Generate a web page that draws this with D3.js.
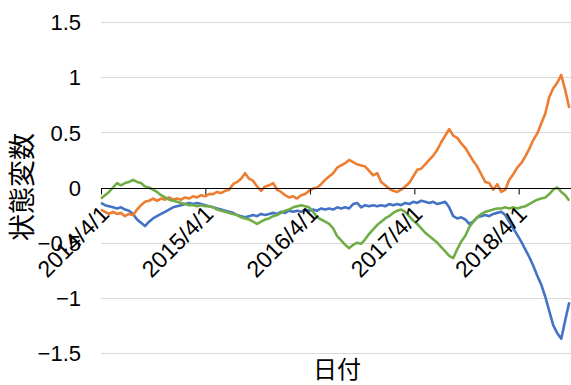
<!DOCTYPE html>
<html>
<head>
<meta charset="utf-8">
<script src="https://cdn.jsdelivr.net/npm/d3@7/dist/d3.min.js"></script>
<style>
  html, body { margin: 0; padding: 0; background: #fff; }
  svg { display: block; }
</style>
</head>
<body>
<svg id="chart" width="571" height="385"></svg>
<script>
// Observation dates: every 14 days starting 2014/4/1
const startDate = "2014-04-01";
const stepDays = 14;

const seriesBlue = [
  -0.14,-0.16,-0.17,-0.18,-0.19,-0.18,-0.20,-0.21,-0.24,-0.29,
  -0.32,-0.35,-0.31,-0.28,-0.26,-0.24,-0.22,-0.20,-0.18,-0.17,
  -0.16,-0.15,-0.14,-0.15,-0.14,-0.15,-0.16,-0.17,-0.18,-0.19,
  -0.20,-0.21,-0.22,-0.23,-0.25,-0.26,-0.27,-0.26,-0.25,-0.26,
  -0.24,-0.25,-0.24,-0.23,-0.24,-0.22,-0.23,-0.21,-0.22,-0.21,
  -0.22,-0.20,-0.21,-0.20,-0.21,-0.19,-0.20,-0.19,-0.20,-0.18,
  -0.19,-0.18,-0.19,-0.15,-0.14,-0.18,-0.16,-0.17,-0.16,-0.17,
  -0.16,-0.17,-0.15,-0.16,-0.15,-0.16,-0.14,-0.15,-0.13,-0.14,
  -0.12,-0.13,-0.14,-0.13,-0.15,-0.14,-0.13,-0.18,-0.26,-0.28,
  -0.27,-0.29,-0.33,-0.31,-0.27,-0.26,-0.25,-0.26,-0.24,-0.23,
  -0.22,-0.25,-0.31,-0.37,-0.43,-0.49,-0.56,-0.63,-0.71,-0.80,
  -0.88,-0.99,-1.12,-1.25,-1.32,-1.37,-1.20,-1.04
];

const seriesOrange = [
  -0.20,-0.22,-0.24,-0.22,-0.24,-0.23,-0.26,-0.24,-0.25,-0.20,
  -0.16,-0.13,-0.12,-0.10,-0.12,-0.10,-0.11,-0.09,-0.11,-0.10,
  -0.11,-0.09,-0.10,-0.08,-0.09,-0.07,-0.08,-0.06,-0.06,-0.04,
  -0.05,-0.03,-0.02, 0.03, 0.05, 0.08, 0.13, 0.08, 0.06, 0.01,
  -0.03, 0.01, 0.02, 0.04,-0.02,-0.04,-0.07,-0.09,-0.08,-0.10,
  -0.07,-0.06,-0.03,-0.01, 0.00, 0.03, 0.07, 0.10, 0.13, 0.18,
   0.20, 0.22, 0.25, 0.23, 0.21, 0.20, 0.19, 0.15, 0.11, 0.13,
   0.05, 0.02,-0.01,-0.03,-0.04,-0.02, 0.01, 0.04, 0.10, 0.16,
   0.17, 0.21, 0.25, 0.29, 0.34, 0.41, 0.47, 0.53, 0.47, 0.45,
   0.40, 0.36, 0.30, 0.24, 0.19, 0.12, 0.05, 0.04,-0.02, 0.03,
  -0.04,-0.02, 0.07, 0.12, 0.18, 0.22, 0.28, 0.35, 0.43, 0.49,
   0.58, 0.67, 0.82, 0.90, 0.95, 1.02, 0.88, 0.72
];

const seriesGreen = [
  -0.10,-0.07,-0.04, 0.00, 0.04, 0.02, 0.04, 0.05, 0.07, 0.05,
   0.04, 0.01, 0.00,-0.02,-0.04,-0.07,-0.09,-0.11,-0.12,-0.13,
  -0.14,-0.15,-0.16,-0.16,-0.17,-0.16,-0.17,-0.17,-0.18,-0.20,
  -0.21,-0.22,-0.23,-0.24,-0.25,-0.27,-0.28,-0.29,-0.31,-0.33,
  -0.31,-0.29,-0.28,-0.26,-0.25,-0.23,-0.21,-0.20,-0.18,-0.17,
  -0.16,-0.17,-0.18,-0.22,-0.27,-0.29,-0.31,-0.33,-0.37,-0.44,
  -0.48,-0.52,-0.55,-0.52,-0.50,-0.51,-0.47,-0.42,-0.38,-0.34,
  -0.31,-0.28,-0.26,-0.23,-0.21,-0.20,-0.22,-0.26,-0.30,-0.33,
  -0.37,-0.41,-0.44,-0.47,-0.50,-0.54,-0.58,-0.62,-0.64,-0.56,
  -0.49,-0.44,-0.36,-0.31,-0.27,-0.24,-0.22,-0.21,-0.20,-0.19,
  -0.19,-0.18,-0.19,-0.18,-0.19,-0.18,-0.17,-0.15,-0.13,-0.11,
  -0.10,-0.09,-0.06,-0.02, 0.00,-0.04,-0.07,-0.12
];

const yTicks = [-1.5, -1, -0.5, 0, 0.5, 1, 1.5];
const xTickDates = ["2014-04-01", "2015-04-01", "2016-04-01", "2017-04-01", "2018-04-01"];
const seriesColors = ["#4472C4", "#ED7D31", "#70AD47"];
const yTitle = "状態変数";
const xTitle = "日付";

const parse = d3.utcParse("%Y-%m-%d");
const t0 = parse(startDate);
const dateAt = i => d3.utcDay.offset(t0, i * stepDays);

const svg = d3.select("#chart");
const margin = { left: 101, right: 0, top: 22, bottom: 32 };
const W = 571, H = 385;

const x = d3.scaleUtc()
  .domain([t0, parse("2018-10-01")])
  .range([margin.left, W - margin.right]);
const y = d3.scaleLinear()
  .domain([-1.5, 1.5])
  .range([H - margin.bottom, margin.top]);

const sans = "'Liberation Sans', Arial, sans-serif";
const cjk = "'Noto Sans CJK JP', 'Noto Sans CJK SC', sans-serif";

// horizontal gridlines
svg.append("g")
  .selectAll("line")
  .data(yTicks.filter(v => v !== 0))
  .join("line")
  .attr("x1", margin.left).attr("x2", W)
  .attr("y1", d => Math.round(y(d)) + 0.5).attr("y2", d => Math.round(y(d)) + 0.5)
  .attr("stroke", "#d9d9d9").attr("stroke-width", 1);

// y axis labels
const yAxis = d3.axisLeft(y).tickValues(yTicks).tickSize(0).tickPadding(0)
  .tickFormat(d => d3.format("")(d));
const gy = svg.append("g").attr("transform", `translate(81,0)`).call(yAxis);
gy.select(".domain").remove();
gy.selectAll("text")
  .attr("font-family", sans).attr("font-size", 22).attr("fill", "#000")
  .attr("dy", "0.35em");

// series lines
const line = d3.line()
  .x((d, i) => x(dateAt(i)))
  .y(d => y(d));
[seriesBlue, seriesOrange, seriesGreen].forEach((s, k) => {
  svg.append("path")
    .datum(s)
    .attr("d", line)
    .attr("fill", "none")
    .attr("stroke", seriesColors[k])
    .attr("stroke-width", 2.6)
    .attr("stroke-linejoin", "round");
});

// x axis through zero
const xAxis = d3.axisBottom(x)
  .tickValues(xTickDates.map(parse))
  .tickSize(6).tickSizeOuter(0)
  .tickFormat(d3.utcFormat("%Y/%-m/%-d"));
const gx = svg.append("g")
  .attr("transform", `translate(0,${Math.round(y(0)) + 0.5})`)
  .call(xAxis);
gx.select(".domain").attr("stroke", "#000").attr("stroke-width", 1)
  .attr("d", `M${margin.left},0H${W}`);
gx.selectAll(".tick line").attr("stroke", "#000");
gx.selectAll(".tick text")
  .attr("font-family", sans).attr("font-size", 23).attr("fill", "#000")
  .attr("text-anchor", "end")
  .attr("y", 0).attr("dy", 0)
  .attr("transform", "translate(9,27) rotate(-45)");

// axis titles
svg.append("text")
  .attr("transform", `translate(32,187) rotate(-90)`)
  .attr("text-anchor", "middle")
  .attr("font-family", cjk).attr("font-size", 27).attr("fill", "#000")
  .text(yTitle);
svg.append("text")
  .attr("x", 337).attr("y", 378)
  .attr("text-anchor", "middle")
  .attr("font-family", cjk).attr("font-size", 24).attr("fill", "#000")
  .text(xTitle);
</script>
</body>
</html>
